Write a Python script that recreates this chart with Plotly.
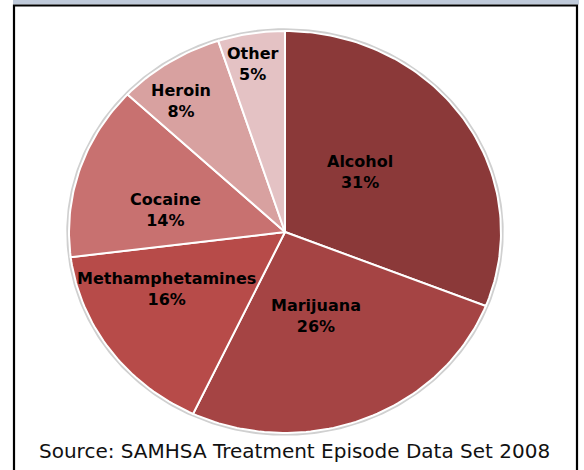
import numpy as np
import plotly.graph_objects as go

# ---- data ----
categories = ["Alcohol", "Marijuana", "Methamphetamines", "Cocaine", "Heroin", "Other"]
values = [31, 26, 16, 14, 8, 5]
colors = ["#8B3939", "#A54444", "#B74B49", "#C87170", "#D8A1A0", "#E4C2C4"]

# ---- geometry (layout) ----
W, H = 584, 470
CX, CY, RX, RY = 285, 232, 216, 201
# label centers (layout positions)
label_xy = {
    "Alcohol": (360, 172),
    "Marijuana": (316, 316),
    "Methamphetamines": (166, 289),
    "Cocaine": (165, 210),
    "Heroin": (181, 101),
    "Other": (252, 64),
}

fig = go.Figure()
total = float(sum(values))
cum = np.concatenate([[0], np.cumsum(values)]) / total

# outer soft shadow ring
t = np.linspace(0, 2 * np.pi, 400)
fig.add_trace(go.Scatter(
    x=CX + (RX + 1.5) * np.sin(t), y=CY - (RY + 1.5) * np.cos(t),
    mode="lines", line=dict(color="#D0D0D0", width=2.5),
    fill="toself", fillcolor="#D0D0D0", hoverinfo="skip", showlegend=False))

for i, (cat, v, c) in enumerate(zip(categories, values, colors)):
    a0, a1 = cum[i] * 2 * np.pi, cum[i + 1] * 2 * np.pi
    n = max(8, int((a1 - a0) / (2 * np.pi) * 300))
    th = np.linspace(a0, a1, n)
    xs = np.concatenate([[CX], CX + RX * np.sin(th), [CX]])
    ys = np.concatenate([[CY], CY - RY * np.cos(th), [CY]])
    fig.add_trace(go.Scatter(
        x=xs, y=ys, mode="lines", fill="toself", fillcolor=c,
        line=dict(color="white", width=2), name=cat,
        hoverinfo="name", showlegend=False))
    lx, ly = label_xy[cat]
    fig.add_annotation(
        x=lx, y=ly, xref="x", yref="y", showarrow=False,
        text=f"<b>{cat}<br>{v}%</b>",
        font=dict(family="DejaVu Sans", size=16, color="black"),
        align="center")

fig.add_annotation(
    x=294, y=451, xref="x", yref="y", showarrow=False,
    text="Source: SAMHSA Treatment Episode Data Set 2008",
    font=dict(family="DejaVu Sans", size=20, color="#111111"))

# top band and frame
fig.add_shape(type="rect", xref="x", yref="y", x0=13, x1=579, y0=0, y1=4.5,
              fillcolor="#BFCADA", line=dict(width=0), layer="below")
fig.add_shape(type="path", xref="x", yref="y",
              path="M 14,480 L 14,5.5 L 577,5.5 L 577,480",
              line=dict(color="black", width=2.2))

fig.update_layout(
    width=W, height=H, margin=dict(l=0, r=0, t=0, b=0),
    paper_bgcolor="white", plot_bgcolor="white",
    xaxis=dict(range=[0, W], visible=False, fixedrange=True),
    yaxis=dict(range=[H, 0], visible=False, fixedrange=True),
)

fig.write_html("out.html")
